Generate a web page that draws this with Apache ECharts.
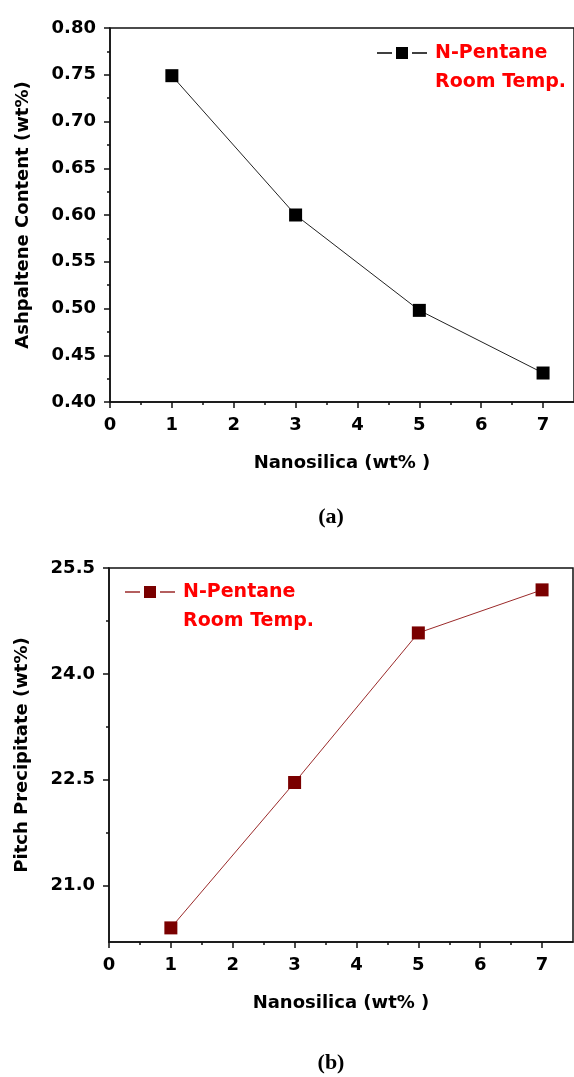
<!DOCTYPE html>
<html>
<head>
<meta charset="utf-8">
<script src="https://cdn.jsdelivr.net/npm/echarts@6/dist/echarts.min.js"></script>
<style>
  html, body { margin: 0; padding: 0; background: #fff; }
  #chart { width: 574px; height: 1077px; }
</style>
</head>
<body>
<div id="chart"></div>
<script>
// Nanosilica loading (wt%)
const nanosilica = [1, 3, 5, 7];
// (a) asphaltene content, N-pentane at room temperature (wt%)
const asphaltene = [0.749, 0.600, 0.498, 0.431];
// (b) pitch precipitate (wt%)
const pitch = [20.40, 22.46, 24.58, 25.19];

// axis ticks
const xTicks = [0, 1, 2, 3, 4, 5, 6, 7];
const xMinorTicks = [0.5, 1.5, 2.5, 3.5, 4.5, 5.5, 6.5];
const asphTicks = [0.40, 0.45, 0.50, 0.55, 0.60, 0.65, 0.70, 0.75, 0.80];
const asphMinorTicks = [0.425, 0.475, 0.525, 0.575, 0.625, 0.675, 0.725, 0.775];
const pitchTicks = [21.0, 22.5, 24.0, 25.5];
const pitchMinorTicks = [21.75, 23.25, 24.75];

const seriesName = 'N-Pentane';
const legendLines = ['N-Pentane', 'Room Temp.'];
const xName = 'Nanosilica (wt% )';
const yNameA = 'Ashpaltene Content (wt%)';
const yNameB = 'Pitch Precipitate (wt%)';

const FONT = 'DejaVu Sans';
const AXIS_COLOR = '#111';
const tickText = { fontFamily: FONT, fontWeight: 'bold', fontSize: 18, color: '#000' };
const nameText = { fontFamily: FONT, fontWeight: 'bold', fontSize: 18, color: '#000' };

function xAxisMain(grid) {
  return {
    type: 'value', gridIndex: grid, position: 'bottom', min: 0, max: 7.5,
    name: xName, nameLocation: 'middle', nameGap: 52, nameTextStyle: nameText,
    axisLine: { show: true, lineStyle: { color: AXIS_COLOR, width: 1.5 } },
    axisTick: { show: true, customValues: xTicks, length: 6, lineStyle: { color: AXIS_COLOR, width: 1.5 } },
    axisLabel: { show: true, customValues: xTicks, margin: 14, ...tickText, formatter: v => String(v) },
    splitLine: { show: false }
  };
}
function xAxisMinor(grid) {
  return {
    type: 'value', gridIndex: grid, position: 'bottom', min: 0, max: 7.5,
    axisLine: { show: false },
    axisTick: { show: true, customValues: xMinorTicks, length: 3, lineStyle: { color: AXIS_COLOR, width: 1.5 } },
    axisLabel: { show: false }, splitLine: { show: false }
  };
}
function yAxisMain(grid, min, max, ticks, name, digits) {
  return {
    type: 'value', gridIndex: grid, position: 'left', min: min, max: max,
    name: name, nameLocation: 'middle', nameGap: 78, nameTextStyle: nameText,
    axisLine: { show: true, lineStyle: { color: AXIS_COLOR, width: 1.5 } },
    axisTick: { show: true, customValues: ticks, length: 6, lineStyle: { color: AXIS_COLOR, width: 1.5 } },
    axisLabel: { show: true, customValues: ticks, margin: 14, ...tickText, formatter: v => v.toFixed(digits) },
    splitLine: { show: false }
  };
}
function yAxisMinor(grid, min, max, ticks) {
  return {
    type: 'value', gridIndex: grid, position: 'left', min: min, max: max,
    axisLine: { show: false },
    axisTick: { show: true, customValues: ticks, length: 3, lineStyle: { color: AXIS_COLOR, width: 1.5 } },
    axisLabel: { show: false }, splitLine: { show: false }
  };
}

function legendGroup(x, y, markColor, lineColor) {
  return {
    type: 'group', x: x, y: y,
    children: [
      { type: 'line', shape: { x1: 0, y1: 0, x2: 15, y2: 0 }, style: { stroke: lineColor, lineWidth: 1.5 } },
      { type: 'rect', shape: { x: 19, y: -6, width: 12, height: 12 }, style: { fill: markColor } },
      { type: 'line', shape: { x1: 35, y1: 0, x2: 50, y2: 0 }, style: { stroke: lineColor, lineWidth: 1.5 } },
      { type: 'text', x: 58, y: 0, style: { text: legendLines[0], font: 'bold 19px "DejaVu Sans"', fill: '#ff0000', verticalAlign: 'middle' } },
      { type: 'text', x: 58, y: 29, style: { text: legendLines[1], font: 'bold 19px "DejaVu Sans"', fill: '#ff0000', verticalAlign: 'middle' } }
    ]
  };
}

const chart = echarts.init(document.getElementById('chart'), null, { renderer: 'canvas' });
chart.setOption({
  animation: false,
  backgroundColor: '#fff',
  grid: [
    { left: 110, top: 28, width: 468, height: 374, show: true, borderColor: AXIS_COLOR, borderWidth: 1.5, backgroundColor: 'transparent' },
    { left: 109, top: 568, width: 464, height: 374, show: true, borderColor: AXIS_COLOR, borderWidth: 1.5, backgroundColor: 'transparent' }
  ],
  xAxis: [xAxisMain(0), xAxisMinor(0), xAxisMain(1), xAxisMinor(1)],
  yAxis: [
    yAxisMain(0, 0.40, 0.80, asphTicks, yNameA, 2),
    yAxisMinor(0, 0.40, 0.80, asphMinorTicks),
    yAxisMain(1, 20.2, 25.5, pitchTicks, yNameB, 1),
    yAxisMinor(1, 20.2, 25.5, pitchMinorTicks)
  ],
  series: [
    {
      name: seriesName, type: 'line', xAxisIndex: 0, yAxisIndex: 0,
      data: nanosilica.map((x, i) => [x, asphaltene[i]]),
      symbol: 'rect', symbolSize: 13,
      lineStyle: { color: '#222', width: 1 },
      itemStyle: { color: '#000' }
    },
    {
      name: seriesName, type: 'line', xAxisIndex: 2, yAxisIndex: 2,
      data: nanosilica.map((x, i) => [x, pitch[i]]),
      symbol: 'rect', symbolSize: 13,
      lineStyle: { color: '#9b2a2a', width: 1 },
      itemStyle: { color: '#7a0000' }
    }
  ],
  graphic: [
    legendGroup(377, 53, '#000', '#000'),
    legendGroup(125, 592, '#7a0000', '#9b2a2a'),
    { type: 'text', x: 331, y: 517, style: { text: '(a)', font: 'bold 22px "Liberation Serif"', fill: '#000', align: 'center', verticalAlign: 'middle' } },
    { type: 'text', x: 331, y: 1063, style: { text: '(b)', font: 'bold 22px "Liberation Serif"', fill: '#000', align: 'center', verticalAlign: 'middle' } }
  ]
});
</script>
</body>
</html>
